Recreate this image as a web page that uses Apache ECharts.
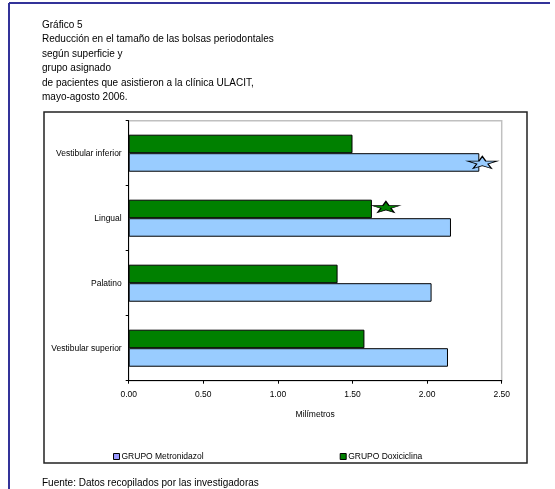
<!DOCTYPE html>
<html>
<head>
<meta charset="utf-8">
<script src="https://cdn.jsdelivr.net/npm/echarts@6/dist/echarts.min.js"></script>
<style>
  html, body { margin: 0; padding: 0; background: #fff; }
  #main { width: 555px; height: 489px; }
</style>
</head>
<body>
<div id="main"></div>
<script>
// categorias de abajo hacia arriba
var superficies = ['Vestibular superior', 'Palatino', 'Lingual', 'Vestibular inferior'];
var metronidazol = [2.14, 2.03, 2.16, 2.35];
var doxiciclina = [1.58, 1.40, 1.63, 1.50];

var titulo = [
  'Gráfico 5',
  'Reducción en el tamaño de las bolsas periodontales',
  'según superficie y',
  'grupo asignado',
  'de pacientes que asistieron a la clínica ULACIT,',
  'mayo-agosto 2006.'
];
var fuente = 'Fuente: Datos recopilados por las investigadoras';

var star = 'path://M50,0 L61,35 L98,35 L68,57 L79,91 L50,70 L21,91 L32,57 L2,35 L39,35 Z';
var font = '"Liberation Sans", Arial, sans-serif';

var myChart = echarts.init(document.getElementById('main'));
var option = {
  animation: false,
  textStyle: { fontFamily: font, color: '#000' },
  title: [
    {
      text: titulo.join('\n'),
      left: 42,
      top: 18,
      padding: 0,
      textStyle: { fontSize: 10, fontWeight: 'normal', color: '#000', lineHeight: 14.4, fontFamily: font }
    },
    {
      text: fuente,
      left: 42,
      top: 477,
      padding: 0,
      textStyle: { fontSize: 10, fontWeight: 'normal', color: '#000', lineHeight: 12, fontFamily: font }
    }
  ],
  graphic: [
    { type: 'line', shape: { x1: 9, y1: 3, x2: 550, y2: 3 }, style: { stroke: '#333399', lineWidth: 2 } },
    { type: 'line', shape: { x1: 9, y1: 3, x2: 9, y2: 489 }, style: { stroke: '#333399', lineWidth: 2 } },
    {
      type: 'rect',
      shape: { x: 44, y: 112, width: 483, height: 351 },
      style: { fill: 'none', stroke: '#222', lineWidth: 1.5 },
      z: 1
    }
  ],
  legend: {
    left: 108,
    top: 447,
    itemWidth: 6,
    itemHeight: 6,
    itemGap: 136,
    icon: 'rect',
    textStyle: { fontSize: 8.5, color: '#000', padding: [0, 0, 0, -3] },
    itemStyle: { borderColor: '#000', borderWidth: 1 },
    data: [
      { name: 'GRUPO Metronidazol', itemStyle: { color: '#9999FF' } },
      { name: 'GRUPO Doxiciclina', itemStyle: { color: '#008000' } }
    ]
  },
  grid: {
    left: 128.7,
    top: 120.7,
    right: 53.3,
    bottom: 108.3,
    show: true,
    borderColor: '#c0c0c0',
    borderWidth: 1.5
  },
  xAxis: {
    type: 'value',
    min: 0,
    max: 2.5,
    interval: 0.5,
    name: 'Milímetros',
    nameLocation: 'middle',
    nameGap: 29,
    nameTextStyle: { fontSize: 8.5, color: '#000' },
    splitLine: { show: false },
    axisLine: { show: true, lineStyle: { color: '#000', width: 1 } },
    axisTick: { show: true, length: 3, lineStyle: { color: '#000' } },
    axisLabel: {
      fontSize: 8.5,
      color: '#000',
      margin: 9,
      formatter: function (v) { return v.toFixed(2); }
    }
  },
  yAxis: {
    type: 'category',
    data: superficies,
    axisLine: { show: true, lineStyle: { color: '#000', width: 1 } },
    axisTick: { show: true, length: 3, lineStyle: { color: '#000' } },
    axisLabel: { fontSize: 8.5, color: '#000', margin: 7 }
  },
  series: [
    {
      name: 'GRUPO Doxiciclina',
      type: 'bar',
      data: doxiciclina,
      barGap: '0%',
      barCategoryGap: '43%',
      itemStyle: { color: '#008000', borderColor: '#000', borderWidth: 1 },
      markPoint: {
        symbol: star,
        symbolSize: [27, 11],
        symbolKeepAspect: false,
        label: { show: false },
        itemStyle: { color: '#008000', borderColor: '#000', borderWidth: 1 },
        data: [{ coord: [doxiciclina[2], 2], symbolOffset: [14, -2] }]
      }
    },
    {
      name: 'GRUPO Metronidazol',
      type: 'bar',
      data: metronidazol,
      barGap: '0%',
      barCategoryGap: '43%',
      itemStyle: { color: '#99CCFF', borderColor: '#000', borderWidth: 1 },
      markPoint: {
        symbol: star,
        symbolSize: [30, 12],
        symbolKeepAspect: false,
        label: { show: false },
        itemStyle: { color: '#99CCFF', borderColor: '#000', borderWidth: 1 },
        data: [{ coord: [metronidazol[3], 3], symbolOffset: [3, 0] }]
      }
    }
  ]
};
myChart.setOption(option);
</script>
</body>
</html>
